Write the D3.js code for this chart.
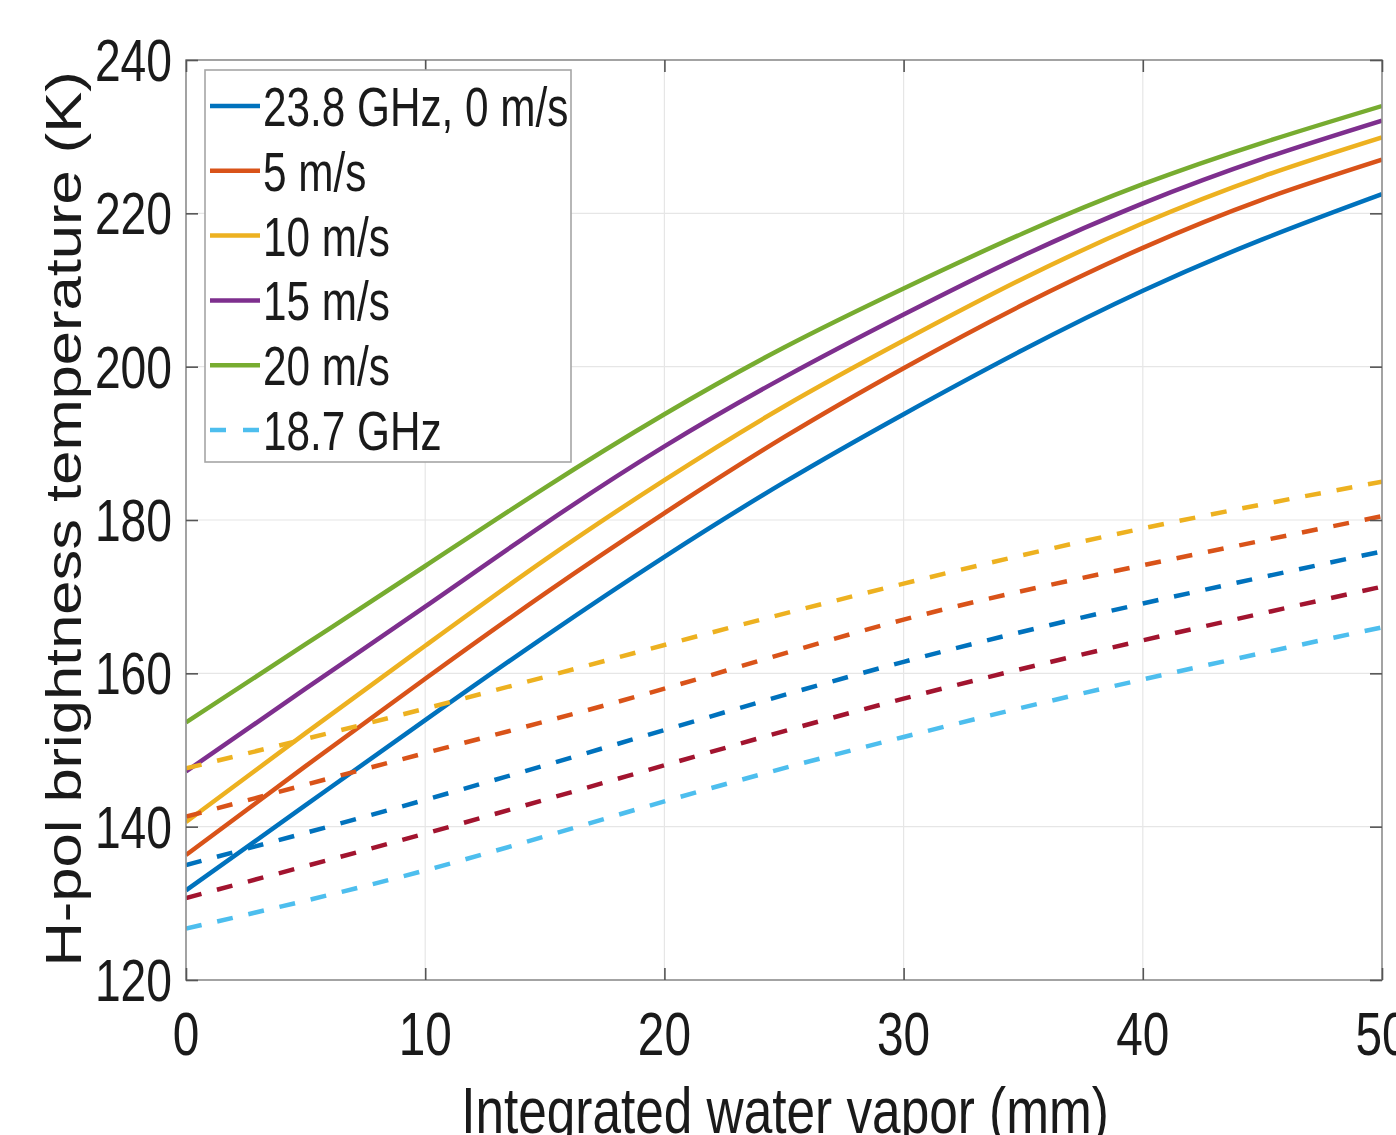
<!DOCTYPE html>
<html>
<head>
<meta charset="utf-8">
<script src="https://cdn.jsdelivr.net/npm/d3@7"></script>
<style>
  html, body { margin: 0; padding: 0; background: #fff; }
  svg text { font-family: "Liberation Sans", Arial, sans-serif; fill: #1a1a1a; }
</style>
</head>
<body>
<svg id="chart" width="1396" height="1135"></svg>
<script>
// ---------- data ----------
const iwvSolid = [0, 5, 10, 15, 20, 25, 30, 35, 40, 45, 50];   // Integrated water vapor (mm)
const iwvDash  = [0, 10, 20, 30, 40, 50];
const xTicks = [0, 10, 20, 30, 40, 50];
const yTicks = [120, 140, 160, 180, 200, 220, 240];

// 23.8 GHz, solid lines
const tb238_0  = [131.7, 142.8, 153.9, 164.8, 175.2, 184.9, 193.8, 202.2, 209.9, 216.6, 222.5];
const tb238_5  = [136.3, 147.9, 159.3, 170.4, 180.9, 190.8, 199.8, 208.1, 215.5, 221.8, 227.0];
const tb238_10 = [140.6, 152.2, 163.6, 174.8, 185.2, 194.8, 203.4, 211.5, 218.7, 224.8, 229.9];
const tb238_15 = [147.2, 158.0, 168.7, 179.5, 189.6, 198.6, 206.8, 214.5, 221.3, 227.1, 232.1];
const tb238_20 = [153.6, 163.8, 174.0, 184.2, 193.8, 202.5, 210.2, 217.4, 223.8, 229.2, 234.0];

// 18.7 GHz, dashed lines
const tb187_a = [147.6, 155.4, 163.7, 171.7, 178.9, 185.0];
const tb187_b = [141.3, 149.6, 158.0, 167.0, 174.1, 180.5];
const tb187_c = [135.0, 143.5, 152.6, 161.5, 169.1, 175.9];
const tb187_d = [130.7, 139.1, 148.0, 156.7, 164.3, 171.3];
const tb187_e = [126.7, 134.3, 143.3, 151.7, 159.2, 166.0];

const legendLabels = ["23.8 GHz, 0 m/s", "5 m/s", "10 m/s", "15 m/s", "20 m/s", "18.7 GHz"];

// ---------- styling ----------
const C = {blue:"#0072BD", red:"#D95319", orange:"#EDB120", purple:"#7E2F8E",
           green:"#77AC30", cyan:"#4DBEEE", dark:"#A2142F"};

const series = [
  {x: iwvSolid, v: tb238_0,  c: C.blue,   dash: false},
  {x: iwvSolid, v: tb238_5,  c: C.red,    dash: false},
  {x: iwvSolid, v: tb238_10, c: C.orange, dash: false},
  {x: iwvSolid, v: tb238_15, c: C.purple, dash: false},
  {x: iwvSolid, v: tb238_20, c: C.green,  dash: false},
  {x: iwvDash,  v: tb187_a,  c: C.orange, dash: true},
  {x: iwvDash,  v: tb187_b,  c: C.red,    dash: true},
  {x: iwvDash,  v: tb187_c,  c: C.blue,   dash: true},
  {x: iwvDash,  v: tb187_d,  c: C.dark,   dash: true},
  {x: iwvDash,  v: tb187_e,  c: C.cyan,   dash: true}
];
const legendColors = [C.blue, C.red, C.orange, C.purple, C.green, C.cyan];
const legendDash = [false, false, false, false, false, true];

const L = 186, R = 1382, T = 60, B = 980;
const SX = 0.77; // horizontal compression of text in the reference

const svg = d3.select("#chart");
const x = d3.scaleLinear().domain([0, 50]).range([L, R]);
const y = d3.scaleLinear().domain([120, 240]).range([B, T]);

// grid
const grid = svg.append("g");
grid.selectAll(".gx").data(xTicks.slice(1, -1)).enter().append("line")
  .attr("x1", d => x(d)).attr("x2", d => x(d)).attr("y1", T).attr("y2", B)
  .attr("stroke", "#e6e6e6").attr("stroke-width", 1.2);
grid.selectAll(".gy").data(yTicks.slice(1, -1)).enter().append("line")
  .attr("x1", L).attr("x2", R).attr("y1", d => y(d)).attr("y2", d => y(d))
  .attr("stroke", "#e6e6e6").attr("stroke-width", 1.2);

// clip
svg.append("defs").append("clipPath").attr("id", "clip")
  .append("rect").attr("x", L).attr("y", T).attr("width", R - L).attr("height", B - T);

const lines = svg.append("g").attr("clip-path", "url(#clip)");
lines.selectAll("path").data(series).enter().append("path")
  .attr("d", s => d3.line().x((d, i) => x(s.x[i])).y(d => y(d)).curve(d3.curveNatural)(s.v))
  .attr("fill", "none")
  .attr("stroke", d => d.c)
  .attr("stroke-width", 4.5)
  .attr("stroke-dasharray", d => d.dash ? "16,16" : null);

// axes box
const axCol = "#8c8c8c";
svg.append("rect").attr("x", L).attr("y", T).attr("width", R - L).attr("height", B - T)
  .attr("fill", "none").attr("stroke", axCol).attr("stroke-width", 1.6);

// axes with d3 (ticks inward)
const tl = 12;
const xAxisB = d3.axisBottom(x).tickValues(xTicks).tickSize(-tl).tickFormat("");
const xAxisT = d3.axisTop(x).tickValues(xTicks).tickSize(-tl).tickFormat("");
const yAxisL = d3.axisLeft(y).tickValues(yTicks).tickSize(-tl).tickFormat("");
const yAxisR = d3.axisRight(y).tickValues(yTicks).tickSize(-tl).tickFormat("");
function styleAxis(g) {
  g.select(".domain").remove();
  g.selectAll(".tick line").attr("stroke", "#555").attr("stroke-width", 1.6);
}
svg.append("g").attr("transform", `translate(0,${B})`).call(xAxisB).call(styleAxis);
svg.append("g").attr("transform", `translate(0,${T})`).call(xAxisT).call(styleAxis);
svg.append("g").attr("transform", `translate(${L},0)`).call(yAxisL).call(styleAxis);
svg.append("g").attr("transform", `translate(${R},0)`).call(yAxisR).call(styleAxis);

// tick labels
svg.append("g").selectAll("text").data(xTicks).enter().append("text")
  .attr("transform", d => `translate(${x(d)},1055) scale(${SX},1)`)
  .attr("text-anchor", "middle").attr("font-size", 62).text(d => d);
svg.append("g").selectAll("text").data(yTicks).enter().append("text")
  .attr("transform", d => `translate(172,${y(d) + 21}) scale(${SX},1)`)
  .attr("text-anchor", "end").attr("font-size", 60).text(d => d);

// axis titles
svg.append("text")
  .attr("transform", `translate(${(463 + 1107) / 2},1133) scale(0.79,1)`)
  .attr("text-anchor", "middle").attr("font-size", 65)
  .text("Integrated water vapor (mm)");
svg.append("text")
  .attr("transform", `translate(81,519) scale(0.82,1) rotate(-90)`)
  .attr("text-anchor", "middle").attr("font-size", 61.5)
  .text("H-pol brightness temperature (K)");

// legend
const lg = svg.append("g");
lg.append("rect").attr("x", 205).attr("y", 70).attr("width", 366).attr("height", 392)
  .attr("fill", "#fff").attr("stroke", "#a6a6a6").attr("stroke-width", 1.6);
const rowY = i => 106 + i * 64.8;
legendLabels.forEach((lab, i) => {
  lg.append("line").attr("x1", 210).attr("x2", 260).attr("y1", rowY(i)).attr("y2", rowY(i))
    .attr("stroke", legendColors[i]).attr("stroke-width", 4.5)
    .attr("stroke-dasharray", legendDash[i] ? "16,17" : null);
  lg.append("text")
    .attr("transform", `translate(263,${rowY(i) + 20}) scale(0.755,1)`)
    .attr("font-size", 56).text(lab);
});
</script>
</body>
</html>
